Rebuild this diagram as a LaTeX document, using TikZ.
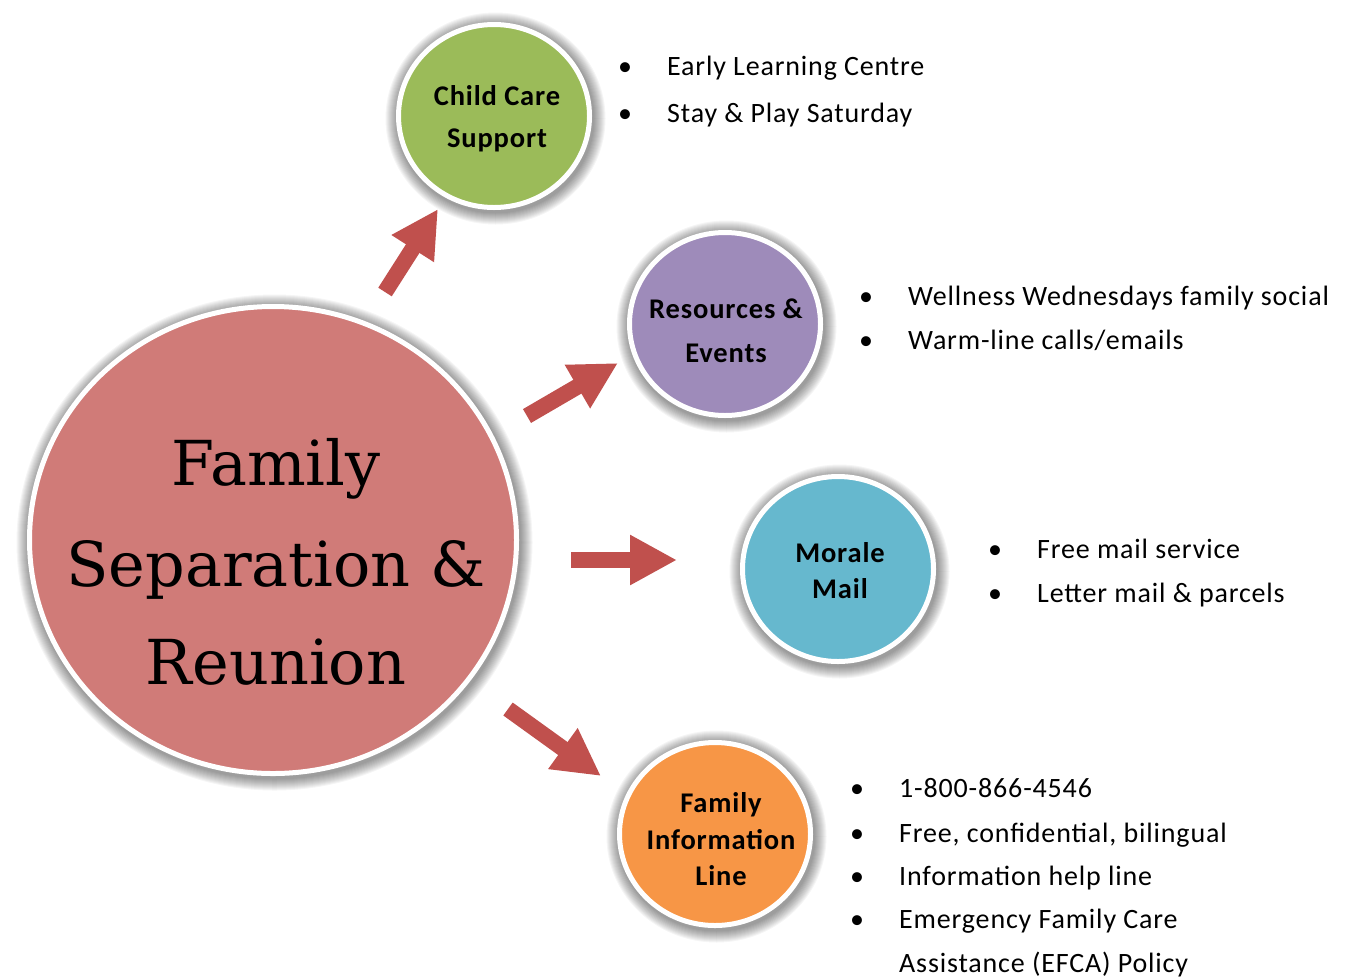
\documentclass[tikz,border=0pt]{standalone}
\usepackage{fontspec}
\setmainfont{Carlito}[LetterSpace=3]
\newfontfamily\slabfont{DejaVu Serif}
\usetikzlibrary{shapes.geometric,arrows.meta,calc}
\definecolor{arrowred}{HTML}{C0504D}
\definecolor{mainred}{HTML}{D07B78}
\definecolor{ccgreen}{HTML}{9BBB59}
\definecolor{respurple}{HTML}{9E8BBA}
\definecolor{mailblue}{HTML}{66B8CE}
\definecolor{infoorange}{HTML}{F79646}
\newcommand\glowshadow[3]{%
  \foreach \i in {1,...,12}{%
    \fill[black,opacity=0.04] ($(#1)+(1.5,2.5)$) ellipse [x radius={(#2+\i)*1pt}, y radius={(#3+\i)*1pt}];}}
\begin{document}
\begin{tikzpicture}[x=1pt,y=-1pt,
  bubble/.style={ellipse, draw=white, line width=5pt, inner sep=0pt},
  bigarrow/.style={draw=arrowred, line width=16pt, line cap=butt, -{Triangle[length=47pt,width=47pt]}},
  bul/.style={anchor=base, inner sep=0pt, font=\fontsize{28}{34}\selectfont},
  itemtext/.style={anchor=base west, inner sep=0pt, font=\fontsize{28}{34}\selectfont},
  lbl/.style={anchor=base, inner sep=0pt, font=\bfseries\fontsize{28.5}{34}\selectfont},
  mainlbl/.style={anchor=base, inner sep=0pt, font=\slabfont\fontsize{62}{70}\selectfont},
]
\useasboundingbox (0,0) rectangle (1351,978);

% shadows
\coordinate (cmain) at (273,540);
\coordinate (ccc) at (494,116);
\coordinate (cre) at (725,324);
\coordinate (cmm) at (838,569);
\coordinate (cfi) at (715,834);
\glowshadow{cmain}{246}{236}
\glowshadow{ccc}{98}{94}
\glowshadow{cre}{98}{94}
\glowshadow{cmm}{98}{95}
\glowshadow{cfi}{98}{94}

% bubbles
\node[bubble, fill=mainred, minimum width=487pt, minimum height=467pt] (main) at (cmain) {};
\node[bubble, fill=ccgreen, minimum width=191pt, minimum height=183pt] (cc) at (ccc) {};
\node[bubble, fill=respurple, minimum width=191pt, minimum height=183pt] (re) at (cre) {};
\node[bubble, fill=mailblue, minimum width=191pt, minimum height=185pt] (mm) at (cmm) {};
\node[bubble, fill=infoorange, minimum width=191pt, minimum height=183pt] (fi) at (cfi) {};

% main label
\node[mainlbl] (m1) at (276,485) {Family};
\node[mainlbl] (m2) at (276,586) {Separation \&};
\node[mainlbl] (m3) at (276,684) {Reunion};

% bubble labels
\node[lbl] (cc1) at (497,105) {Child Care};
\node[lbl] (cc2) at (497,147) {Support};
\node[lbl] (re1) at (726,318) {Resources \&};
\node[lbl] (re2) at (726,362) {Events};
\node[lbl] (mm1) at (840,562) {Morale};
\node[lbl] (mm2) at (840,598) {Mail};
\node[lbl] (fi1) at (721,812) {Family};
\node[lbl] (fi2) at (721,849) {Information};
\node[lbl] (fi3) at (721,885) {Line};

% arrows
\coordinate (a1s) at (385,292); \coordinate (a1e) at (438,209);
\coordinate (a2s) at (527,416); \coordinate (a2e) at (618,363);
\coordinate (a3s) at (571,560); \coordinate (a3e) at (677,560);
\coordinate (a4s) at (508,709); \coordinate (a4e) at (601,776);
\draw[bigarrow] (a1s) -- (a1e);
\draw[bigarrow] (a2s) -- (a2e);
\draw[bigarrow] (a3s) -- (a3e);
\draw[bigarrow] (a4s) -- (a4e);

% bullet lists
\node[bul] (b11) at (625,75) {\textbullet};
\node[itemtext] (t11) at (667,75) {Early Learning Centre};
\node[bul] (b12) at (625,122) {\textbullet};
\node[itemtext] (t12) at (667,122) {Stay \& Play Saturday};

\node[bul] (b21) at (866,305) {\textbullet};
\node[itemtext] (t21) at (908,305) {Wellness Wednesdays family social};
\node[bul] (b22) at (866,349) {\textbullet};
\node[itemtext] (t22) at (908,349) {Warm-line calls/emails};

\node[bul] (b31) at (995,558) {\textbullet};
\node[itemtext] (t31) at (1037,558) {Free mail service};
\node[bul] (b32) at (995,602) {\textbullet};
\node[itemtext] (t32) at (1037,602) {Letter mail \& parcels};

\node[bul] (b41) at (857,797) {\textbullet};
\node[itemtext] (t41) at (899,797) {1-800-866-4546};
\node[bul] (b42) at (857,842) {\textbullet};
\node[itemtext] (t42) at (899,842) {Free, confidential, bilingual};
\node[bul] (b43) at (857,885) {\textbullet};
\node[itemtext] (t43) at (899,885) {Information help line};
\node[bul] (b44) at (857,928) {\textbullet};
\node[itemtext] (t44) at (899,928) {Emergency Family Care};
\node[itemtext] (t45) at (899,972) {Assistance (EFCA) Policy};
\end{tikzpicture}
\end{document}
